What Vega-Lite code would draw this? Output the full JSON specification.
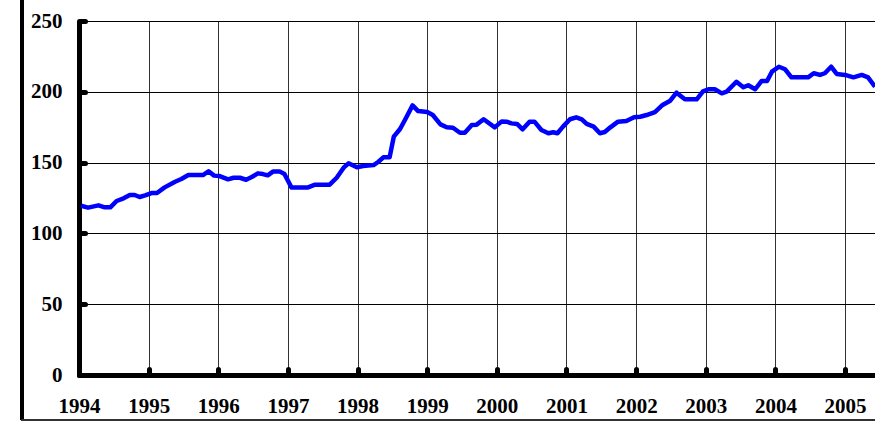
{
  "$schema": "https://vega.github.io/schema/vega-lite/v6.json",
  "width": 796,
  "height": 354,
  "autosize": {"type": "none"},
  "padding": {"left": 79, "top": 21, "right": 0, "bottom": 47},
  "background": "white",
  "config": {
    "view": {"stroke": null},
    "font": "Liberation Serif",
    "axis": {
      "grid": true, "gridWidth": 1,
      "domainColor": "black", "domainWidth": 5,
      "ticks": true, "tickSize": -6, "tickWidth": 5, "tickCap": "round", "tickColor": "black",
      "labelFont": "Liberation Serif", "labelFontWeight": "bold", "labelFontSize": 21, "labelColor": "black",
      "labelOverlap": false, "labelFlush": false
    },
    "axisX": {"gridColor": "#333333", "labelPadding": 26},
    "axisY": {"gridColor": "black", "labelPadding": 23}
  },
  "data": {"values": [
    {"t":1994.03,"v":119.5},{"t":1994.13,"v":118.2},{"t":1994.28,"v":119.8},{"t":1994.37,"v":118.4},{"t":1994.45,"v":118.4},
    {"t":1994.54,"v":122.9},{"t":1994.64,"v":124.8},{"t":1994.73,"v":127.1},{"t":1994.80,"v":127.1},{"t":1994.87,"v":125.7},
    {"t":1994.95,"v":126.9},{"t":1995.04,"v":128.5},{"t":1995.12,"v":128.5},{"t":1995.23,"v":132.5},{"t":1995.38,"v":136.5},
    {"t":1995.47,"v":138.4},{"t":1995.57,"v":141.2},{"t":1995.78,"v":141.2},{"t":1995.86,"v":143.9},{"t":1995.94,"v":140.8},
    {"t":1996.02,"v":140.5},{"t":1996.14,"v":138.2},{"t":1996.22,"v":139.3},{"t":1996.31,"v":139.3},{"t":1996.40,"v":137.9},
    {"t":1996.48,"v":139.8},{"t":1996.57,"v":142.4},{"t":1996.64,"v":141.9},{"t":1996.71,"v":141.0},{"t":1996.79,"v":143.8},
    {"t":1996.88,"v":143.8},{"t":1996.95,"v":141.9},{"t":1997.05,"v":132.5},{"t":1997.29,"v":132.5},{"t":1997.39,"v":134.4},
    {"t":1997.60,"v":134.4},{"t":1997.70,"v":139.3},{"t":1997.80,"v":146.4},{"t":1997.87,"v":149.5},{"t":1997.99,"v":146.7},
    {"t":1998.08,"v":147.6},{"t":1998.23,"v":148.3},{"t":1998.30,"v":150.6},{"t":1998.37,"v":153.7},{"t":1998.46,"v":153.7},
    {"t":1998.52,"v":168.3},{"t":1998.61,"v":173.7},{"t":1998.68,"v":180.1},{"t":1998.79,"v":190.4},{"t":1998.87,"v":186.4},
    {"t":1999.00,"v":185.7},{"t":1999.08,"v":183.6},{"t":1999.19,"v":177.0},{"t":1999.28,"v":174.9},{"t":1999.37,"v":174.6},
    {"t":1999.47,"v":171.1},{"t":1999.54,"v":171.1},{"t":1999.64,"v":176.6},{"t":1999.71,"v":176.8},{"t":1999.81,"v":180.6},
    {"t":1999.97,"v":174.9},{"t":2000.07,"v":179.1},{"t":2000.14,"v":178.9},{"t":2000.21,"v":177.7},{"t":2000.29,"v":177.3},
    {"t":2000.37,"v":173.5},{"t":2000.47,"v":178.9},{"t":2000.54,"v":178.9},{"t":2000.64,"v":173.0},{"t":2000.74,"v":170.7},
    {"t":2000.81,"v":171.4},{"t":2000.87,"v":170.7},{"t":2000.95,"v":175.4},{"t":2001.05,"v":180.6},{"t":2001.14,"v":182.0},
    {"t":2001.22,"v":180.6},{"t":2001.29,"v":177.3},{"t":2001.39,"v":175.4},{"t":2001.48,"v":170.7},{"t":2001.55,"v":171.6},
    {"t":2001.63,"v":174.9},{"t":2001.74,"v":178.9},{"t":2001.86,"v":179.4},{"t":2001.97,"v":182.0},{"t":2002.06,"v":182.4},
    {"t":2002.15,"v":183.6},{"t":2002.27,"v":185.7},{"t":2002.38,"v":190.7},{"t":2002.49,"v":193.7},{"t":2002.58,"v":199.4},
    {"t":2002.70,"v":194.7},{"t":2002.87,"v":194.7},{"t":2002.96,"v":200.3},{"t":2003.04,"v":201.8},{"t":2003.13,"v":201.8},
    {"t":2003.23,"v":198.9},{"t":2003.30,"v":200.1},{"t":2003.44,"v":207.1},{"t":2003.54,"v":203.2},{"t":2003.61,"v":204.6},
    {"t":2003.71,"v":201.8},{"t":2003.80,"v":207.6},{"t":2003.88,"v":207.6},{"t":2003.95,"v":214.2},{"t":2004.05,"v":217.7},
    {"t":2004.14,"v":215.9},{"t":2004.23,"v":210.2},{"t":2004.47,"v":210.2},{"t":2004.55,"v":213.1},{"t":2004.64,"v":211.9},
    {"t":2004.71,"v":213.1},{"t":2004.80,"v":217.7},{"t":2004.88,"v":212.6},{"t":2005.00,"v":211.9},{"t":2005.12,"v":210.2},
    {"t":2005.24,"v":211.9},{"t":2005.33,"v":210.2},{"t":2005.43,"v":203.6}
  ]},
  "layer": [
    {
      "mark": {"type": "line", "color": "#0000FF", "strokeWidth": 4.5, "strokeJoin": "round", "strokeCap": "butt"},
      "encoding": {
        "x": {
          "field": "t", "type": "quantitative", "title": null,
          "scale": {"domain": [1994, 2005.43], "nice": false, "zero": false},
          "axis": {"values": [1994,1995,1996,1997,1998,1999,2000,2001,2002,2003,2004,2005], "format": "d", "title": null}
        },
        "y": {
          "field": "v", "type": "quantitative", "title": null,
          "scale": {"domain": [0, 250], "nice": false},
          "axis": {"values": [0,50,100,150,200,250], "title": null}
        }
      }
    },
    {
      "mark": {"type": "rule", "color": "black", "strokeWidth": 3, "clip": false},
      "encoding": {
        "x": {"datum": 1993.18, "type": "quantitative", "title": null},
        "y": {"datum": 264.9, "type": "quantitative", "title": null},
        "y2": {"datum": -31.8}
      }
    },
    {
      "mark": {"type": "rule", "color": "#333333", "strokeWidth": 1.5, "clip": false},
      "encoding": {
        "x": {"datum": 1993.18, "type": "quantitative", "title": null},
        "x2": {"datum": 2005.5},
        "y": {"datum": -31.8, "type": "quantitative", "title": null}
      }
    }
  ]
}
